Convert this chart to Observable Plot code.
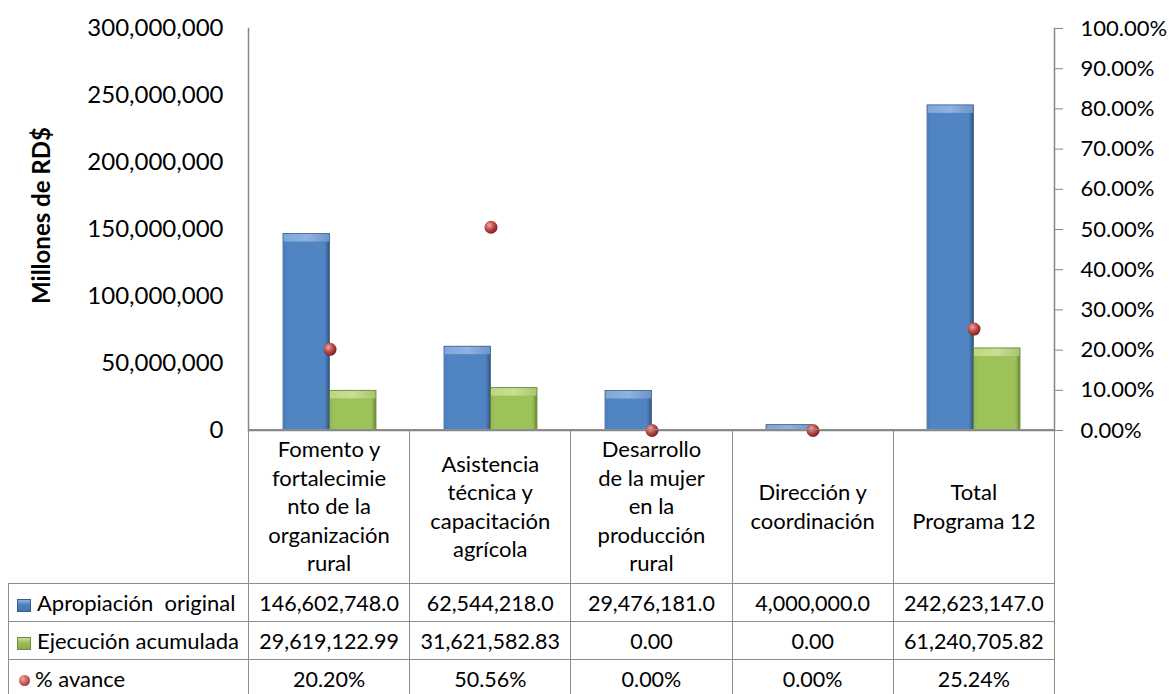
<!DOCTYPE html>
<html><head><meta charset="utf-8">
<script src="https://cdn.jsdelivr.net/npm/d3@7"></script>
<script src="https://cdn.jsdelivr.net/npm/@observablehq/plot@0.6"></script>
<style>
body{margin:0;background:#fff;font-family:Lato, sans-serif;color:#000;}
#wrap{position:relative;width:1174px;height:694px;overflow:hidden;}
#chart{position:absolute;left:0;top:0;}
#tbl{position:absolute;left:8px;top:429px;border-collapse:collapse;table-layout:fixed;font-size:21.5px;font-family:Lato, sans-serif;}
#tbl td{border:1.5px solid #8e8e8e;text-align:center;padding:0;white-space:pre;overflow:hidden;}
#tbl tr.head td{line-height:28.5px;height:153px;vertical-align:middle;font-size:22px;}
#tbl tr.row td{height:37px;}
#tbl td.leg{text-align:left;padding-left:8px;font-size:22px;}
.sw{display:inline-block;width:14px;height:13px;margin-right:6px;vertical-align:-1px;}
.sw.blue{background:linear-gradient(#8fb3e2,#4f81bd 45%,#4576b2);border:1px solid #385d8a;box-sizing:border-box;}
.sw.green{background:linear-gradient(#c8df95,#9bbb59 45%,#8aab4a);border:1px solid #71893f;box-sizing:border-box;}
.sw.red{width:11px;height:11px;border-radius:50%;background:radial-gradient(circle at 35% 35%,#eea3a1,#c0504d 55%,#7a2220);margin-left:2px;margin-right:5px;vertical-align:1px;}
</style></head><body>
<div id="wrap"><div id="chart"></div><table id="tbl"></table></div>
<script>
const categories = ["Fomento y fortalecimiento de la organización rural","Asistencia técnica y capacitación agrícola","Desarrollo de la mujer en la producción rural","Dirección y coordinación","Total Programa 12"];
const categoryLines = [
  ["Fomento y","fortalecimie","nto de la","organización","rural"],
  ["Asistencia","técnica y","capacitación","agrícola"],
  ["Desarrollo","de la mujer","en la","producción","rural"],
  ["Dirección y","coordinación"],
  ["Total","Programa 12"]
];
const apropiacion = [146602748.0, 62544218.0, 29476181.0, 4000000.0, 242623147.0];
const ejecucion = [29619122.99, 31621582.83, 0.00, 0.00, 61240705.82];
const avance = [0.2020, 0.5056, 0.0000, 0.0000, 0.2524];
const seriesNames = ["Apropiación  original","Ejecución acumulada","% avance"];
const leftTicks = [0, 50000000, 100000000, 150000000, 200000000, 250000000, 300000000];
const rightTicks = [0, 0.1, 0.2, 0.3, 0.4, 0.5, 0.6, 0.7, 0.8, 0.9, 1.0];
const yMax = 300000000;

const data = categories.map((c, i) => ({cat: c, apro: apropiacion[i], ejec: ejecucion[i], pct: avance[i]}));

const band = (1174 - 248 - 120) / categories.length;
const barW = band * 0.289;
const outer = (band - 2 * barW) / 2;
const bev = 8;                       // bevel width in px
const minV = yMax * 14 / 402;        // only bevel bars taller than ~14px

function bevelBar(rows, key, left, right, c) {
  const tall = rows.filter(d => d[key] > minV);
  return [
    Plot.barY(rows, {x: "cat", y: key, insetLeft: left, insetRight: right, fill: c.light, stroke: c.line, strokeWidth: 0.8}),
    Plot.barY(tall, {x: "cat", y: key, insetLeft: left + 0.5, insetRight: right + 0.5, insetTop: bev, insetBottom: 0.5, fill: c.side})
  ];
}

const svg = Plot.plot({
  width: 1174, height: 460,
  marginLeft: 248, marginRight: 120, marginTop: 28, marginBottom: 30,
  style: {fontFamily: "Lato, sans-serif", fontSize: "22px", color: "#000", overflow: "visible"},
  x: {domain: categories, padding: 0, axis: null},
  y: {domain: [0, yMax]},
  marks: [
    ...bevelBar(data, "apro", outer, outer + barW, {light: "url(#tBlue)", side: "url(#gBlue)", line: "#34587f"}),
    ...bevelBar(data.filter(d => d.ejec > 0), "ejec", outer + barW, outer, {light: "url(#tGreen)", side: "url(#gGreen)", line: "#5f7a2c"}),
    Plot.ruleY([0], {stroke: "#868686", strokeWidth: 1.5}),
    Plot.frame({anchor: "left", stroke: "#868686", strokeWidth: 1.5}),
    Plot.frame({anchor: "right", stroke: "#868686", strokeWidth: 1.5}),
    Plot.axisY({anchor: "left", ticks: leftTicks, tickSize: 0, tickPadding: 25, tickFormat: d3.format(","), fontSize: 24, fill: "#000", label: null}),
    Plot.axisY({anchor: "right", ticks: rightTicks.map(t => t * yMax), tickSize: 8, tickPadding: 18, stroke: "#868686", tickFormat: v => (v / yMax * 100).toFixed(2) + "%", fontSize: 22, fill: "#000", label: null}),
    Plot.dot(data, {x: "cat", y: d => d.pct * yMax, r: 6.5, fill: "url(#gRed)", stroke: "none"}),
    Plot.text(["Millones de RD$"], {frameAnchor: "left", textAnchor: "middle", rotate: -90, dx: -206, dy: -14, fontWeight: "bold", fontSize: 24, fill: "#000"})
  ]
});

const defs = d3.select(svg).insert("defs", ":first-child");
function grad(id, horizontal, stops) {
  const g = defs.append("linearGradient").attr("id", id)
    .attr("x1", 0).attr("y1", 0).attr("x2", horizontal ? 1 : 0).attr("y2", horizontal ? 0 : 1);
  stops.forEach(([o, c]) => g.append("stop").attr("offset", o).attr("stop-color", c));
}
grad("gBlue", true, [[0, "#4a7bb8"], [0.08, "#5084c3"], [0.9, "#5084c3"], [0.96, "#436fa7"], [1, "#2f4f78"]]);
grad("tBlue", true, [[0, "#7ea6da"], [0.5, "#8fb3e2"], [1, "#6d94c8"]]);
grad("gGreen", true, [[0, "#93b650"], [0.08, "#9dc25a"], [0.9, "#9dc25a"], [0.96, "#89a94a"], [1, "#5f7a2c"]]);
grad("tGreen", true, [[0, "#bcd780"], [0.5, "#c8df95"], [1, "#a9c56b"]]);
const rg = defs.append("radialGradient").attr("id", "gRed").attr("cx", "0.38").attr("cy", "0.35").attr("r", "0.65");
[[0, "#f0a8a6"], [0.5, "#c0504d"], [1, "#7a2220"]].forEach(([o, c]) => rg.append("stop").attr("offset", o).attr("stop-color", c));

document.getElementById("chart").appendChild(svg);

// data table below the plot
const fmtA = d3.format(",.1f"), fmtE = d3.format(",.2f"), fmtP = d3.format(".2%");
const tbl = d3.select("#tbl");
const cg = tbl.append("colgroup");
cg.append("col").style("width", "240px");
categories.forEach(() => cg.append("col").style("width", band + "px"));
const head = tbl.append("tr").attr("class", "head");
head.append("td").style("border-top", "none").style("border-left", "none");
categoryLines.forEach(lines => head.append("td").html(lines.join("<br>")));
const rows = [
  {name: seriesNames[0], sw: "blue", vals: apropiacion.map(fmtA)},
  {name: seriesNames[1], sw: "green", vals: ejecucion.map(fmtE)},
  {name: seriesNames[2], sw: "red", vals: avance.map(fmtP)}
];
rows.forEach(r => {
  const tr = tbl.append("tr").attr("class", "row");
  const td = tr.append("td").attr("class", "leg");
  td.append("span").attr("class", "sw " + r.sw);
  td.append("span").text(r.name);
  r.vals.forEach(v => tr.append("td").text(v));
});
</script>
</body></html>
